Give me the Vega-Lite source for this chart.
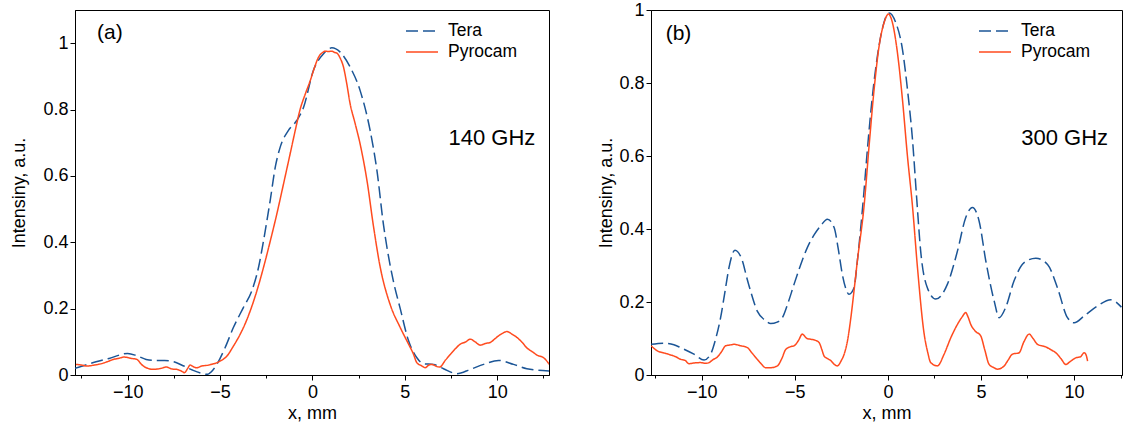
{
"$schema": "https://vega.github.io/schema/vega-lite/v6.json",
"padding": {"left": 10, "top": 0, "right": 0, "bottom": 0},
"bounds": "flush",
"spacing": 102,
"config": {
  "view": {"stroke": "black", "strokeWidth": 1},
  "font": "Liberation Sans",
  "axis": {"grid": false, "domainColor": "black", "tickColor": "black", "labelColor": "black", "titleColor": "black", "labelFontSize": 18, "titleFontSize": 18, "titleFontWeight": "normal", "labelFont": "Liberation Sans", "titleFont": "Liberation Sans", "labelOverlap": false},
  "legend": {"orient": "none", "title": null, "symbolType": "M-1.6,0H1.6", "symbolSize": 400, "symbolStrokeWidth": 1.5, "labelFontSize": 17.5, "labelFont": "Liberation Sans", "labelOffset": 15, "rowPadding": 1, "labelColor": "black", "padding": 0}
},
"datasets": {
  "a": [
    {"s":"Tera","x":-12.85,"y":0.02},{"s":"Tera","x":-12,"y":0.035},{"s":"Tera","x":-11,"y":0.05},{"s":"Tera","x":-10,"y":0.065},{"s":"Tera","x":-9.5,"y":0.058},{"s":"Tera","x":-9,"y":0.047},{"s":"Tera","x":-8.5,"y":0.044},{"s":"Tera","x":-8,"y":0.044},{"s":"Tera","x":-7.5,"y":0.04},{"s":"Tera","x":-7,"y":0.028},{"s":"Tera","x":-6.5,"y":0.015},{"s":"Tera","x":-6,"y":0.005},{"s":"Tera","x":-5.7,"y":0.002},{"s":"Tera","x":-5.36,"y":0.017},{"s":"Tera","x":-4.73,"y":0.082},{"s":"Tera","x":-4.28,"y":0.143},{"s":"Tera","x":-3.74,"y":0.203},{"s":"Tera","x":-3.28,"y":0.254},{"s":"Tera","x":-2.92,"y":0.324},{"s":"Tera","x":-2.65,"y":0.404},{"s":"Tera","x":-2.29,"y":0.525},{"s":"Tera","x":-2.0,"y":0.63},{"s":"Tera","x":-1.75,"y":0.686},{"s":"Tera","x":-1.3,"y":0.737},{"s":"Tera","x":-0.85,"y":0.767},{"s":"Tera","x":-0.48,"y":0.807},{"s":"Tera","x":0.05,"y":0.918},{"s":"Tera","x":0.6,"y":0.968},{"s":"Tera","x":1.05,"y":0.986},{"s":"Tera","x":1.5,"y":0.973},{"s":"Tera","x":2.04,"y":0.928},{"s":"Tera","x":2.58,"y":0.857},{"s":"Tera","x":3.12,"y":0.737},{"s":"Tera","x":3.49,"y":0.616},{"s":"Tera","x":3.85,"y":0.45},{"s":"Tera","x":4.03,"y":0.385},{"s":"Tera","x":4.39,"y":0.28},{"s":"Tera","x":4.75,"y":0.2},{"s":"Tera","x":5.2,"y":0.103},{"s":"Tera","x":5.65,"y":0.052},{"s":"Tera","x":6.0,"y":0.034},{"s":"Tera","x":6.55,"y":0.032},{"s":"Tera","x":7.09,"y":0.019},{"s":"Tera","x":7.82,"y":0.004},{"s":"Tera","x":8.54,"y":0.017},{"s":"Tera","x":9.26,"y":0.032},{"s":"Tera","x":10.07,"y":0.044},{"s":"Tera","x":10.88,"y":0.032},{"s":"Tera","x":11.6,"y":0.019},{"s":"Tera","x":12.8,"y":0.012},
    {"s":"Pyrocam","x":-12.8,"y":0.032},{"s":"Pyrocam","x":-12.5,"y":0.03},{"s":"Pyrocam","x":-12.2,"y":0.027},{"s":"Pyrocam","x":-11.8,"y":0.03},{"s":"Pyrocam","x":-11.5,"y":0.033},{"s":"Pyrocam","x":-11.1,"y":0.04},{"s":"Pyrocam","x":-10.77,"y":0.047},{"s":"Pyrocam","x":-10.5,"y":0.05},{"s":"Pyrocam","x":-10.2,"y":0.054},{"s":"Pyrocam","x":-9.8,"y":0.05},{"s":"Pyrocam","x":-9.5,"y":0.047},{"s":"Pyrocam","x":-9.3,"y":0.035},{"s":"Pyrocam","x":-9.15,"y":0.027},{"s":"Pyrocam","x":-8.9,"y":0.02},{"s":"Pyrocam","x":-8.6,"y":0.017},{"s":"Pyrocam","x":-8.2,"y":0.02},{"s":"Pyrocam","x":-7.9,"y":0.024},{"s":"Pyrocam","x":-7.6,"y":0.018},{"s":"Pyrocam","x":-7.35,"y":0.017},{"s":"Pyrocam","x":-7.1,"y":0.012},{"s":"Pyrocam","x":-6.93,"y":0.007},{"s":"Pyrocam","x":-6.75,"y":0.02},{"s":"Pyrocam","x":-6.62,"y":0.03},{"s":"Pyrocam","x":-6.45,"y":0.025},{"s":"Pyrocam","x":-6.26,"y":0.022},{"s":"Pyrocam","x":-6.0,"y":0.027},{"s":"Pyrocam","x":-5.72,"y":0.029},{"s":"Pyrocam","x":-5.4,"y":0.033},{"s":"Pyrocam","x":-5.18,"y":0.037},{"s":"Pyrocam","x":-4.9,"y":0.045},{"s":"Pyrocam","x":-4.63,"y":0.057},{"s":"Pyrocam","x":-4.3,"y":0.085},{"s":"Pyrocam","x":-3.91,"y":0.123},{"s":"Pyrocam","x":-3.6,"y":0.16},{"s":"Pyrocam","x":-3.37,"y":0.193},{"s":"Pyrocam","x":-3.0,"y":0.255},{"s":"Pyrocam","x":-2.65,"y":0.324},{"s":"Pyrocam","x":-2.3,"y":0.4},{"s":"Pyrocam","x":-1.93,"y":0.485},{"s":"Pyrocam","x":-1.55,"y":0.58},{"s":"Pyrocam","x":-1.21,"y":0.666},{"s":"Pyrocam","x":-0.9,"y":0.745},{"s":"Pyrocam","x":-0.67,"y":0.8},{"s":"Pyrocam","x":-0.4,"y":0.845},{"s":"Pyrocam","x":-0.12,"y":0.887},{"s":"Pyrocam","x":0.1,"y":0.925},{"s":"Pyrocam","x":0.33,"y":0.958},{"s":"Pyrocam","x":0.55,"y":0.972},{"s":"Pyrocam","x":0.69,"y":0.976},{"s":"Pyrocam","x":0.85,"y":0.975},{"s":"Pyrocam","x":1.05,"y":0.976},{"s":"Pyrocam","x":1.2,"y":0.972},{"s":"Pyrocam","x":1.32,"y":0.97},{"s":"Pyrocam","x":1.5,"y":0.955},{"s":"Pyrocam","x":1.68,"y":0.928},{"s":"Pyrocam","x":1.85,"y":0.88},{"s":"Pyrocam","x":2.04,"y":0.817},{"s":"Pyrocam","x":2.3,"y":0.76},{"s":"Pyrocam","x":2.58,"y":0.696},{"s":"Pyrocam","x":2.95,"y":0.586},{"s":"Pyrocam","x":3.31,"y":0.445},{"s":"Pyrocam","x":3.67,"y":0.324},{"s":"Pyrocam","x":4.2,"y":0.213},{"s":"Pyrocam","x":4.75,"y":0.143},{"s":"Pyrocam","x":5.2,"y":0.093},{"s":"Pyrocam","x":5.45,"y":0.065},{"s":"Pyrocam","x":5.65,"y":0.037},{"s":"Pyrocam","x":5.9,"y":0.028},{"s":"Pyrocam","x":6.1,"y":0.022},{"s":"Pyrocam","x":6.3,"y":0.03},{"s":"Pyrocam","x":6.46,"y":0.032},{"s":"Pyrocam","x":6.7,"y":0.026},{"s":"Pyrocam","x":6.88,"y":0.024},{"s":"Pyrocam","x":7.2,"y":0.045},{"s":"Pyrocam","x":7.46,"y":0.062},{"s":"Pyrocam","x":7.75,"y":0.08},{"s":"Pyrocam","x":8.0,"y":0.093},{"s":"Pyrocam","x":8.3,"y":0.1},{"s":"Pyrocam","x":8.54,"y":0.108},{"s":"Pyrocam","x":8.8,"y":0.1},{"s":"Pyrocam","x":9.08,"y":0.09},{"s":"Pyrocam","x":9.35,"y":0.095},{"s":"Pyrocam","x":9.62,"y":0.098},{"s":"Pyrocam","x":9.85,"y":0.108},{"s":"Pyrocam","x":10.07,"y":0.118},{"s":"Pyrocam","x":10.3,"y":0.126},{"s":"Pyrocam","x":10.52,"y":0.131},{"s":"Pyrocam","x":10.8,"y":0.123},{"s":"Pyrocam","x":11.07,"y":0.113},{"s":"Pyrocam","x":11.35,"y":0.098},{"s":"Pyrocam","x":11.6,"y":0.082},{"s":"Pyrocam","x":11.9,"y":0.07},{"s":"Pyrocam","x":12.15,"y":0.06},{"s":"Pyrocam","x":12.51,"y":0.052},{"s":"Pyrocam","x":12.82,"y":0.032}
  ],
  "b": [
    {"s":"Tera","x":-12.72,"y":0.084},{"s":"Tera","x":-12.03,"y":0.087},{"s":"Tera","x":-11.5,"y":0.083},{"s":"Tera","x":-11.14,"y":0.075},{"s":"Tera","x":-10.42,"y":0.057},{"s":"Tera","x":-9.88,"y":0.041},{"s":"Tera","x":-9.53,"y":0.057},{"s":"Tera","x":-9.25,"y":0.1},{"s":"Tera","x":-8.99,"y":0.157},{"s":"Tera","x":-8.75,"y":0.23},{"s":"Tera","x":-8.54,"y":0.294},{"s":"Tera","x":-8.22,"y":0.342},{"s":"Tera","x":-7.82,"y":0.313},{"s":"Tera","x":-7.6,"y":0.27},{"s":"Tera","x":-7.38,"y":0.23},{"s":"Tera","x":-7.02,"y":0.175},{"s":"Tera","x":-6.6,"y":0.15},{"s":"Tera","x":-6.3,"y":0.141},{"s":"Tera","x":-5.95,"y":0.145},{"s":"Tera","x":-5.67,"y":0.157},{"s":"Tera","x":-5.35,"y":0.2},{"s":"Tera","x":-5.04,"y":0.249},{"s":"Tera","x":-4.7,"y":0.3},{"s":"Tera","x":-4.33,"y":0.349},{"s":"Tera","x":-3.95,"y":0.385},{"s":"Tera","x":-3.61,"y":0.409},{"s":"Tera","x":-3.25,"y":0.427},{"s":"Tera","x":-2.89,"y":0.404},{"s":"Tera","x":-2.65,"y":0.34},{"s":"Tera","x":-2.45,"y":0.276},{"s":"Tera","x":-2.25,"y":0.235},{"s":"Tera","x":-2.09,"y":0.221},{"s":"Tera","x":-1.82,"y":0.239},{"s":"Tera","x":-1.64,"y":0.313},{"s":"Tera","x":-1.32,"y":0.482},{"s":"Tera","x":-1.1,"y":0.619},{"s":"Tera","x":-0.83,"y":0.765},{"s":"Tera","x":-0.56,"y":0.875},{"s":"Tera","x":-0.3,"y":0.948},{"s":"Tera","x":0.06,"y":0.992},{"s":"Tera","x":0.42,"y":0.966},{"s":"Tera","x":0.78,"y":0.893},{"s":"Tera","x":1.05,"y":0.783},{"s":"Tera","x":1.32,"y":0.646},{"s":"Tera","x":1.55,"y":0.482},{"s":"Tera","x":1.76,"y":0.34},{"s":"Tera","x":2.12,"y":0.239},{"s":"Tera","x":2.57,"y":0.208},{"s":"Tera","x":3.2,"y":0.249},{"s":"Tera","x":3.74,"y":0.34},{"s":"Tera","x":4.18,"y":0.431},{"s":"Tera","x":4.54,"y":0.459},{"s":"Tera","x":4.9,"y":0.422},{"s":"Tera","x":5.26,"y":0.313},{"s":"Tera","x":5.71,"y":0.203},{"s":"Tera","x":5.98,"y":0.157},{"s":"Tera","x":6.33,"y":0.185},{"s":"Tera","x":6.78,"y":0.258},{"s":"Tera","x":7.32,"y":0.308},{"s":"Tera","x":7.95,"y":0.32},{"s":"Tera","x":8.58,"y":0.303},{"s":"Tera","x":9.11,"y":0.239},{"s":"Tera","x":9.65,"y":0.157},{"s":"Tera","x":10.01,"y":0.143},{"s":"Tera","x":10.55,"y":0.162},{"s":"Tera","x":11.26,"y":0.189},{"s":"Tera","x":11.98,"y":0.206},{"s":"Tera","x":12.55,"y":0.186},
    {"s":"Pyrocam","x":-12.72,"y":0.08},{"s":"Pyrocam","x":-12.39,"y":0.066},{"s":"Pyrocam","x":-12.0,"y":0.06},{"s":"Pyrocam","x":-11.68,"y":0.055},{"s":"Pyrocam","x":-11.4,"y":0.05},{"s":"Pyrocam","x":-11.14,"y":0.043},{"s":"Pyrocam","x":-10.9,"y":0.04},{"s":"Pyrocam","x":-10.69,"y":0.031},{"s":"Pyrocam","x":-10.4,"y":0.033},{"s":"Pyrocam","x":-10.06,"y":0.034},{"s":"Pyrocam","x":-9.8,"y":0.032},{"s":"Pyrocam","x":-9.61,"y":0.034},{"s":"Pyrocam","x":-9.4,"y":0.042},{"s":"Pyrocam","x":-9.17,"y":0.049},{"s":"Pyrocam","x":-8.95,"y":0.063},{"s":"Pyrocam","x":-8.72,"y":0.08},{"s":"Pyrocam","x":-8.5,"y":0.082},{"s":"Pyrocam","x":-8.27,"y":0.084},{"s":"Pyrocam","x":-7.9,"y":0.08},{"s":"Pyrocam","x":-7.55,"y":0.075},{"s":"Pyrocam","x":-7.3,"y":0.06},{"s":"Pyrocam","x":-7.02,"y":0.043},{"s":"Pyrocam","x":-6.8,"y":0.03},{"s":"Pyrocam","x":-6.57,"y":0.02},{"s":"Pyrocam","x":-6.3,"y":0.02},{"s":"Pyrocam","x":-5.94,"y":0.025},{"s":"Pyrocam","x":-5.7,"y":0.045},{"s":"Pyrocam","x":-5.49,"y":0.07},{"s":"Pyrocam","x":-5.2,"y":0.078},{"s":"Pyrocam","x":-5.04,"y":0.08},{"s":"Pyrocam","x":-4.8,"y":0.095},{"s":"Pyrocam","x":-4.6,"y":0.112},{"s":"Pyrocam","x":-4.35,"y":0.1},{"s":"Pyrocam","x":-4.15,"y":0.098},{"s":"Pyrocam","x":-3.9,"y":0.095},{"s":"Pyrocam","x":-3.7,"y":0.089},{"s":"Pyrocam","x":-3.55,"y":0.07},{"s":"Pyrocam","x":-3.43,"y":0.052},{"s":"Pyrocam","x":-3.25,"y":0.045},{"s":"Pyrocam","x":-3.08,"y":0.04},{"s":"Pyrocam","x":-2.9,"y":0.03},{"s":"Pyrocam","x":-2.72,"y":0.025},{"s":"Pyrocam","x":-2.5,"y":0.04},{"s":"Pyrocam","x":-2.35,"y":0.057},{"s":"Pyrocam","x":-2.15,"y":0.1},{"s":"Pyrocam","x":-1.99,"y":0.157},{"s":"Pyrocam","x":-1.8,"y":0.24},{"s":"Pyrocam","x":-1.64,"y":0.313},{"s":"Pyrocam","x":-1.28,"y":0.463},{"s":"Pyrocam","x":-1.01,"y":0.628},{"s":"Pyrocam","x":-0.74,"y":0.783},{"s":"Pyrocam","x":-0.47,"y":0.902},{"s":"Pyrocam","x":-0.2,"y":0.966},{"s":"Pyrocam","x":0.03,"y":0.989},{"s":"Pyrocam","x":0.24,"y":0.966},{"s":"Pyrocam","x":0.51,"y":0.884},{"s":"Pyrocam","x":0.78,"y":0.756},{"s":"Pyrocam","x":1.05,"y":0.6},{"s":"Pyrocam","x":1.32,"y":0.463},{"s":"Pyrocam","x":1.59,"y":0.294},{"s":"Pyrocam","x":1.95,"y":0.112},{"s":"Pyrocam","x":2.15,"y":0.06},{"s":"Pyrocam","x":2.3,"y":0.034},{"s":"Pyrocam","x":2.66,"y":0.025},{"s":"Pyrocam","x":3.02,"y":0.057},{"s":"Pyrocam","x":3.38,"y":0.102},{"s":"Pyrocam","x":3.74,"y":0.139},{"s":"Pyrocam","x":4.0,"y":0.16},{"s":"Pyrocam","x":4.18,"y":0.171},{"s":"Pyrocam","x":4.3,"y":0.16},{"s":"Pyrocam","x":4.45,"y":0.139},{"s":"Pyrocam","x":4.7,"y":0.12},{"s":"Pyrocam","x":4.99,"y":0.107},{"s":"Pyrocam","x":5.2,"y":0.07},{"s":"Pyrocam","x":5.44,"y":0.029},{"s":"Pyrocam","x":5.7,"y":0.02},{"s":"Pyrocam","x":5.89,"y":0.016},{"s":"Pyrocam","x":6.25,"y":0.025},{"s":"Pyrocam","x":6.45,"y":0.04},{"s":"Pyrocam","x":6.69,"y":0.057},{"s":"Pyrocam","x":7.05,"y":0.061},{"s":"Pyrocam","x":7.3,"y":0.09},{"s":"Pyrocam","x":7.59,"y":0.112},{"s":"Pyrocam","x":7.8,"y":0.1},{"s":"Pyrocam","x":8.04,"y":0.084},{"s":"Pyrocam","x":8.48,"y":0.077},{"s":"Pyrocam","x":8.8,"y":0.068},{"s":"Pyrocam","x":9.02,"y":0.061},{"s":"Pyrocam","x":9.3,"y":0.045},{"s":"Pyrocam","x":9.56,"y":0.029},{"s":"Pyrocam","x":9.8,"y":0.037},{"s":"Pyrocam","x":10.1,"y":0.047},{"s":"Pyrocam","x":10.35,"y":0.05},{"s":"Pyrocam","x":10.55,"y":0.061},{"s":"Pyrocam","x":10.65,"y":0.055},{"s":"Pyrocam","x":10.73,"y":0.038}
  ]
},
"hconcat": [
  {
    "width": 474, "height": 365,
    "layer": [
      {
        "data": {"name": "a"},
        "mark": {"type": "line", "strokeWidth": 1.5, "clip": true, "interpolate": "monotone"},
        "encoding": {
          "x": {"field": "x", "type": "quantitative", "title": "x, mm", "scale": {"domain": [-12.85, 12.8], "nice": false, "zero": false},
            "axis": {"values": [-12.5,-10,-7.5,-5,-2.5,0,2.5,5,7.5,10,12.5], "labelExpr": "abs(datum.value % 5) < 0.001 ? format(datum.value, '~g') : ''", "tickSize": {"condition": {"test": "abs(datum.value % 5) < 0.001", "value": 5}, "value": 3}, "labelPadding": 3, "titlePadding": 3}},
          "y": {"field": "y", "type": "quantitative", "title": "Intensiny, a.u.", "scale": {"domain": [0, 1.1], "nice": false},
            "axis": {"values": [0,0.1,0.2,0.3,0.4,0.5,0.6,0.7,0.8,0.9,1.0], "labelExpr": "abs(datum.value*5 - round(datum.value*5)) < 0.001 ? format(datum.value, '~g') : ''", "tickSize": {"condition": {"test": "abs(datum.value*5 - round(datum.value*5)) < 0.001", "value": 5}, "value": 3}, "labelPadding": 2, "titlePadding": 14}},
          "color": {"field": "s", "type": "nominal", "scale": {"domain": ["Tera", "Pyrocam"], "range": ["#1b5596", "#ff4b1f"]}, "legend": {"legendX": 336, "legendY": 10}},
          "strokeDash": {"field": "s", "type": "nominal", "scale": {"domain": ["Tera", "Pyrocam"], "range": [[12, 5], [1, 0]]}, "legend": {"legendX": 336, "legendY": 10}}
        }
      },
      {
        "data": {"values": [{"t": "(a)", "x": -11.66, "y": 1.03}]},
        "mark": {"type": "text", "align": "left", "baseline": "middle", "fontSize": 21, "font": "Liberation Sans", "color": "black"},
        "encoding": {"x": {"field": "x", "type": "quantitative"}, "y": {"field": "y", "type": "quantitative"}, "text": {"field": "t"}}
      },
      {
        "data": {"values": [{"t": "140 GHz", "x": 9.71, "y": 0.715}]},
        "mark": {"type": "text", "align": "center", "baseline": "middle", "fontSize": 22, "font": "Liberation Sans", "color": "black"},
        "encoding": {"x": {"field": "x", "type": "quantitative"}, "y": {"field": "y", "type": "quantitative"}, "text": {"field": "t"}}
      }
    ]
  },
  {
    "width": 471, "height": 365,
    "layer": [
      {
        "data": {"name": "b"},
        "mark": {"type": "line", "strokeWidth": 1.5, "clip": true, "interpolate": "monotone"},
        "encoding": {
          "x": {"field": "x", "type": "quantitative", "title": "x, mm", "scale": {"domain": [-12.73, 12.58], "nice": false, "zero": false},
            "axis": {"values": [-12.5,-10,-7.5,-5,-2.5,0,2.5,5,7.5,10,12.5], "labelExpr": "abs(datum.value % 5) < 0.001 ? format(datum.value, '~g') : ''", "tickSize": {"condition": {"test": "abs(datum.value % 5) < 0.001", "value": 5}, "value": 3}, "labelPadding": 3, "titlePadding": 3}},
          "y": {"field": "y", "type": "quantitative", "title": "Intensiny, a.u.", "scale": {"domain": [0, 1], "nice": false},
            "axis": {"values": [0,0.1,0.2,0.3,0.4,0.5,0.6,0.7,0.8,0.9,1.0], "labelExpr": "abs(datum.value*5 - round(datum.value*5)) < 0.001 ? format(datum.value, '~g') : ''", "tickSize": {"condition": {"test": "abs(datum.value*5 - round(datum.value*5)) < 0.001", "value": 5}, "value": 3}, "labelPadding": 2, "titlePadding": 3}},
          "color": {"field": "s", "type": "nominal", "scale": {"domain": ["Tera", "Pyrocam"], "range": ["#1b5596", "#ff4b1f"]}, "legend": {"legendX": 333, "legendY": 10}},
          "strokeDash": {"field": "s", "type": "nominal", "scale": {"domain": ["Tera", "Pyrocam"], "range": [[12, 5], [1, 0]]}, "legend": {"legendX": 333, "legendY": 10}}
        }
      },
      {
        "data": {"values": [{"t": "(b)", "x": -11.94, "y": 0.934}]},
        "mark": {"type": "text", "align": "left", "baseline": "middle", "fontSize": 21, "font": "Liberation Sans", "color": "black"},
        "encoding": {"x": {"field": "x", "type": "quantitative"}, "y": {"field": "y", "type": "quantitative"}, "text": {"field": "t"}}
      },
      {
        "data": {"values": [{"t": "300 GHz", "x": 9.5, "y": 0.649}]},
        "mark": {"type": "text", "align": "center", "baseline": "middle", "fontSize": 22, "font": "Liberation Sans", "color": "black"},
        "encoding": {"x": {"field": "x", "type": "quantitative"}, "y": {"field": "y", "type": "quantitative"}, "text": {"field": "t"}}
      }
    ]
  }
],
"resolve": {"scale": {"x": "independent", "y": "independent", "color": "independent", "strokeDash": "independent"}, "legend": {"color": "independent", "strokeDash": "independent"}}
}
